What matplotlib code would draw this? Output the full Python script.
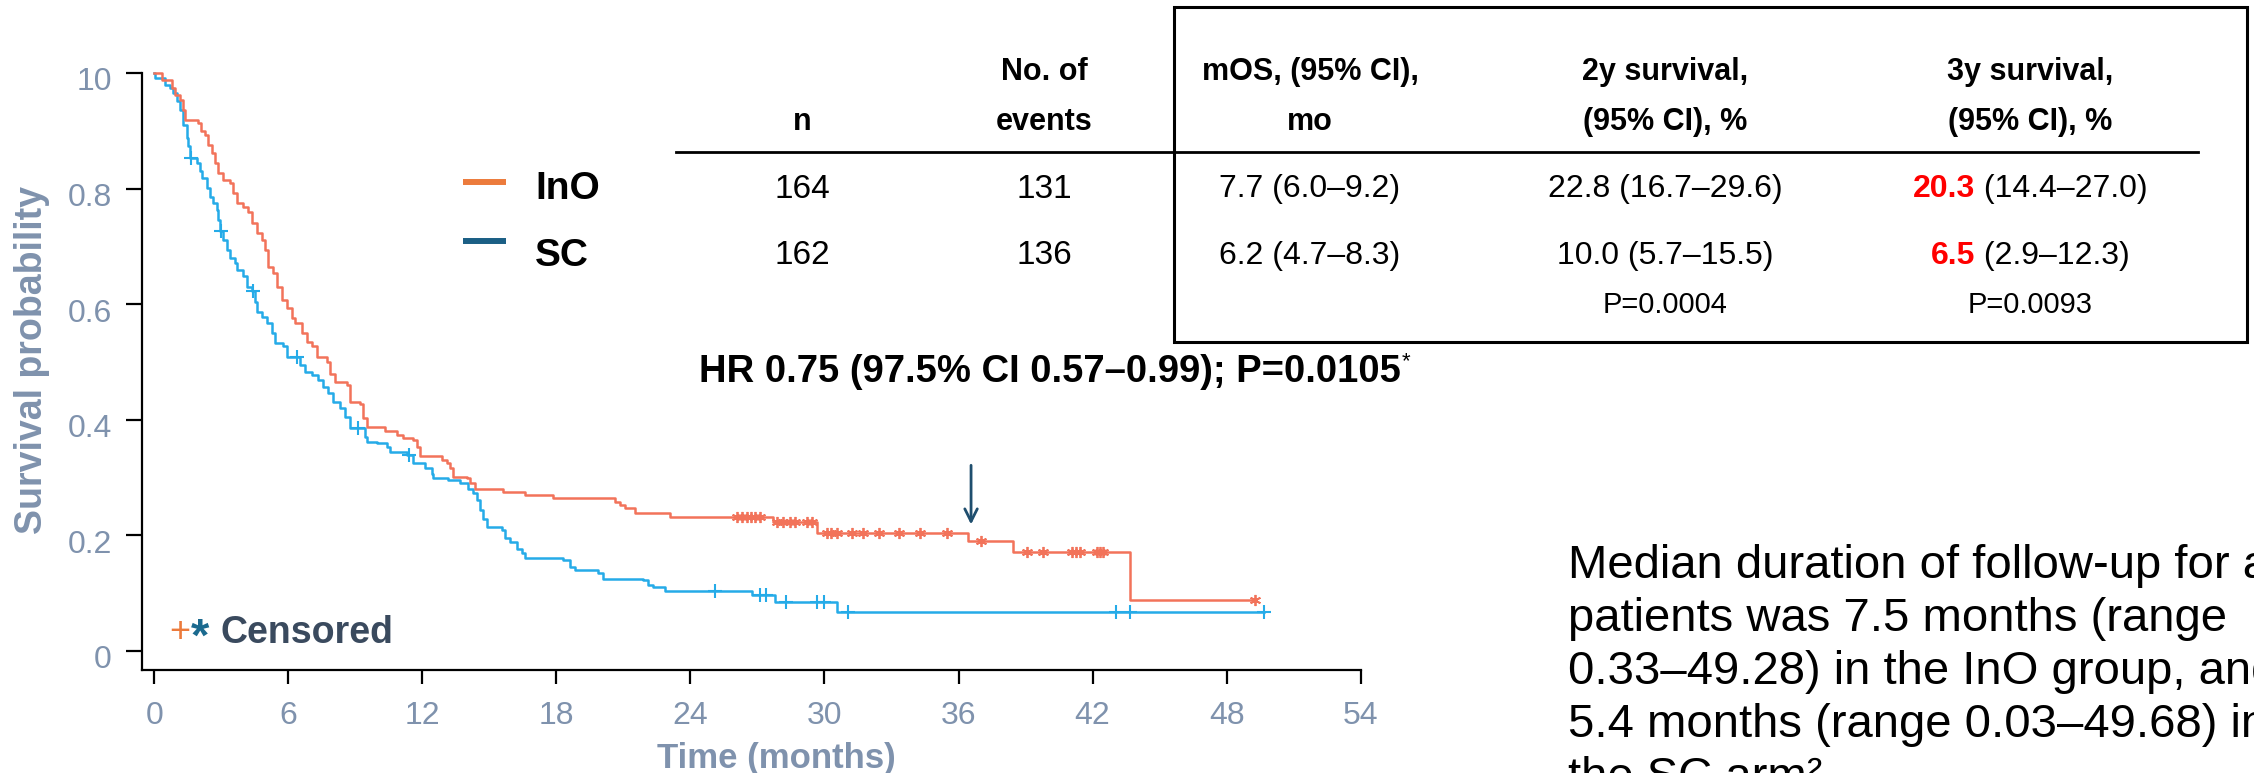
import matplotlib
matplotlib.use('Agg')
import matplotlib.pyplot as plt
import numpy as np
from matplotlib.patches import Rectangle
from matplotlib.lines import Line2D
import matplotlib.transforms as mtransforms

plt.rcParams['font.family'] = ['Liberation Sans', 'DejaVu Sans']

# Kaplan-Meier steps (time in months, survival after the drop)
ino_t = [0, 0.33, 0.78, 0.93, 1.15, 1.27, 1.37, 1.97, 2.08, 2.27,
         2.42, 2.57, 2.72, 2.86, 3.09, 3.39, 3.54, 3.69, 3.98, 4.21,
         4.36, 4.58, 4.81, 4.96, 5.10, 5.33, 5.48, 5.70, 5.93, 6.15,
         6.30, 6.60, 6.82, 7.05, 7.27, 7.72, 7.86, 8.09, 8.61, 8.76,
         9.21, 9.36, 9.51, 10.33, 10.85, 11.15, 11.59, 11.74, 11.89, 12.86,
         13.09, 13.24, 13.39, 13.98, 14.13, 14.36, 15.62, 16.59, 17.86, 20.62,
         20.85, 21.07, 21.52, 23.08, 27.68, 29.68, 36.44, 38.45, 43.67, 49.28]
ino_s = [1.0, 0.988, 0.974, 0.962, 0.954, 0.936, 0.919, 0.913, 0.899, 0.893,
         0.876, 0.861, 0.844, 0.827, 0.815, 0.809, 0.792, 0.775, 0.769, 0.760,
         0.740, 0.723, 0.711, 0.694, 0.665, 0.654, 0.630, 0.607, 0.593, 0.576,
         0.567, 0.550, 0.535, 0.527, 0.509, 0.500, 0.480, 0.466, 0.460, 0.431,
         0.428, 0.403, 0.388, 0.381, 0.374, 0.369, 0.365, 0.353, 0.337, 0.330,
         0.325, 0.316, 0.301, 0.299, 0.290, 0.281, 0.275, 0.270, 0.264, 0.257,
         0.252, 0.247, 0.238, 0.231, 0.223, 0.204, 0.190, 0.172, 0.088, 0.088]
ino_cens = [26.07, 26.30, 26.52, 26.70, 26.89, 27.11, 27.86, 28.16, 28.46, 28.68,
            29.20, 29.43, 30.10, 30.30, 30.55, 31.22, 31.74, 32.44, 33.33, 34.28,
            35.47, 37.0, 39.05, 39.80, 41.07, 41.25, 41.44, 42.18, 42.35, 42.48, 49.28]

sc_t = [0, 0.03, 0.48, 0.70, 0.85, 1.00, 1.15, 1.30, 1.45, 1.52,
        1.58, 1.90, 2.05, 2.12, 2.35, 2.49, 2.64, 2.79, 2.87, 2.94,
        3.09, 3.24, 3.39, 3.61, 3.69, 3.98, 4.14, 4.36, 4.51, 4.58,
        4.81, 5.03, 5.25, 5.40, 5.77, 5.93, 6.52, 6.75, 7.05, 7.34,
        7.56, 7.79, 8.01, 8.31, 8.54, 8.76, 9.43, 9.51, 9.96, 10.40,
        10.55, 11.30, 11.59, 12.12, 12.42, 12.49, 13.16, 13.68, 14.06, 14.28,
        14.43, 14.58, 14.73, 14.88, 15.55, 15.70, 15.92, 16.22, 16.45, 16.59,
        18.31, 18.61, 18.83, 19.87, 20.10, 21.89, 22.11, 22.34, 22.86, 26.74,
        27.78, 30.55, 49.68]
sc_s = [1.0, 0.991, 0.980, 0.974, 0.965, 0.951, 0.936, 0.910, 0.887, 0.873,
        0.853, 0.844, 0.830, 0.818, 0.801, 0.786, 0.775, 0.763, 0.746, 0.726,
        0.711, 0.694, 0.680, 0.671, 0.659, 0.648, 0.630, 0.622, 0.604, 0.587,
        0.578, 0.567, 0.550, 0.532, 0.527, 0.509, 0.495, 0.483, 0.477, 0.469,
        0.457, 0.446, 0.431, 0.420, 0.405, 0.385, 0.371, 0.362, 0.359, 0.353,
        0.345, 0.339, 0.325, 0.316, 0.307, 0.299, 0.296, 0.290, 0.281, 0.273,
        0.261, 0.244, 0.229, 0.215, 0.209, 0.195, 0.189, 0.177, 0.169, 0.160,
        0.157, 0.145, 0.140, 0.134, 0.125, 0.122, 0.114, 0.110, 0.103, 0.097,
        0.084, 0.068, 0.068]
sc_cens = [1.63, 3.01, 4.43, 6.37, 9.13, 11.42, 25.10, 27.11, 27.38, 28.27,
           29.65, 29.98, 31.07, 43.05, 43.67, 49.68]

x_ticks = [0, 6, 12, 18, 24, 30, 36, 42, 48, 54]
y_ticks = [0, 0.2, 0.4, 0.6, 0.8, 1.0]
y_ticklabels = ['0', '0.2', '0.4', '0.6', '0.8', '10']

# summary table
arms = ['InO', 'SC']
n_pts = ['164', '162']
n_events = ['131', '136']
mos = ['7.7 (6.0\u20139.2)', '6.2 (4.7\u20138.3)']
surv2y = ['22.8 (16.7\u201329.6)', '10.0 (5.7\u201315.5)']
surv3y_val = ['20.3', '6.5']
surv3y_ci = [' (14.4\u201327.0)', ' (2.9\u201312.3)']
p_values = ['P=0.0004', 'P=0.0093']
headers = [('', 'n'), ('No. of', 'events'), ('mOS, (95% CI),', 'mo'),
           ('2y survival,', '(95% CI), %'), ('3y survival,', '(95% CI), %')]
hr_text = 'HR 0.75 (97.5% CI 0.57\u20130.99); P=0.0105'
note_lines = ['Median duration of follow-up for all',
              'patients was 7.5 months (range',
              '0.33\u201349.28) in the InO group, and',
              '5.4 months (range 0.03\u201349.68) in',
              'the SC arm\u00b2']
arrow_t, arrow_top, arrow_tip = 36.56, 0.326, 0.214

RED = '#F2735A'
BLUE = '#25ABE8'
ORANGE = '#EC7B3C'
NAVY = '#1B5F85'
GREY = '#7F92AD'

W, H = 2254, 773
fig = plt.figure(figsize=(W / 100, H / 100), dpi=100)


def fx(px):
    return px / W


def fy(py):
    return 1 - py / H


ax = fig.add_axes([fx(141.7), fy(670), fx(1360.7) - fx(141.7), fy(73) - fy(670)])

ax.step(sc_t, sc_s, where='post', color=BLUE, lw=1.8, clip_on=False)
ax.step(ino_t, ino_s, where='post', color=RED, lw=1.8, clip_on=False)


def surv_at(times, surv, tc):
    idx = np.searchsorted(times, tc, side='right') - 1
    return np.asarray(surv)[idx]


ax.plot(sc_cens, surv_at(sc_t, sc_s, sc_cens), ls='none', marker='+',
        ms=10, mew=1.5, color=BLUE, clip_on=False)
ax.plot(ino_cens, surv_at(ino_t, ino_s, ino_cens), ls='none', marker=(6, 2, 0),
        ms=8, mew=1.3, color=RED, clip_on=False)

ax.annotate('', xy=(arrow_t, arrow_tip), xytext=(arrow_t, arrow_top),
            arrowprops=dict(arrowstyle='->,head_length=0.9,head_width=0.45',
                            color='#1F4E6E', lw=2))

ax.set_xlim(-0.56, 54)
ax.set_ylim(-0.033, 1.0)
ax.set_xticks(x_ticks)
ax.set_yticks(y_ticks)
ax.set_yticklabels(y_ticklabels)
for s in ['top', 'right']:
    ax.spines[s].set_visible(False)
for s in ['left', 'bottom']:
    ax.spines[s].set_linewidth(1.6)
ax.tick_params(axis='y', length=11.5, width=1.6, pad=10, labelsize=23, labelcolor=GREY)
ax.tick_params(axis='x', length=10, width=1.6, pad=12, labelsize=23, labelcolor=GREY)
off = mtransforms.ScaledTranslation(0, -6 / 100, fig.dpi_scale_trans)
for lab in ax.get_yticklabels():
    lab.set_transform(lab.get_transform() + off)

ax.set_ylabel('Survival probability', fontsize=27, fontweight='bold', color=GREY)
ax.yaxis.set_label_coords(-0.075, 0.52)
ax.set_xlabel('Time (months)', fontsize=25, fontweight='bold', color=GREY)
ax.xaxis.set_label_coords(0.521, -0.12)

# censored key
fig.text(fx(180), fy(642), '+', fontsize=26, color=ORANGE, ha='center', va='baseline')
fig.text(fx(200), fy(651), '*', fontsize=34, color='#1B6A8F', ha='center', va='baseline',
         fontweight='bold')
fig.text(fx(220), fy(643), 'Censored', fontsize=27, fontweight='bold', color='#3A4A5E',
         ha='left', va='baseline')

renderer = fig.canvas.get_renderer()

# table
col_x = [802, 1044, 1310, 1665, 2030]
head_y = [72, 122]
row_y = [189, 256]
for cx, (h1, h2) in zip(col_x, headers):
    fig.text(fx(cx), fy(head_y[0]), h1, fontsize=22, fontweight='bold', ha='center', va='center')
    fig.text(fx(cx), fy(head_y[1]), h2, fontsize=22, fontweight='bold', ha='center', va='center')

fig.add_artist(Line2D([fx(676), fx(2198)], [fy(152), fy(152)], color='black', lw=2))
fig.add_artist(Rectangle((fx(1174), fy(342)), fx(2247) - fx(1174), fy(7) - fy(342),
                         transform=fig.transFigure, fill=False, ec='black', lw=2.2))

legend_colors = [ORANGE, NAVY]
legend_line_y = [182, 241]
for i in range(2):
    fig.add_artist(Line2D([fx(463), fx(506)], [fy(legend_line_y[i])] * 2,
                          color=legend_colors[i], lw=4.3, solid_capstyle='butt'))
    fig.text(fx(535), fy(row_y[i]), arms[i], fontsize=28, fontweight='bold', ha='left', va='center')
    fig.text(fx(col_x[0]), fy(row_y[i]), n_pts[i], fontsize=24, ha='center', va='center')
    fig.text(fx(col_x[1]), fy(row_y[i]), n_events[i], fontsize=24, ha='center', va='center')
    fig.text(fx(col_x[2]), fy(row_y[i]), mos[i], fontsize=23, ha='center', va='center')
    fig.text(fx(col_x[3]), fy(row_y[i]), surv2y[i], fontsize=23, ha='center', va='center')
    t1 = fig.text(0, 0, surv3y_val[i], fontsize=23, fontweight='bold', color='#FF0000',
                  ha='left', va='center')
    t2 = fig.text(0, 0, surv3y_ci[i], fontsize=23, ha='left', va='center')
    w1 = t1.get_window_extent(renderer).width
    w2 = t2.get_window_extent(renderer).width
    left = col_x[4] - (w1 + w2) / 2
    t1.set_position((fx(left), fy(row_y[i])))
    t2.set_position((fx(left + w1), fy(row_y[i])))

for cx, p in zip(col_x[3:], p_values):
    fig.text(fx(cx), fy(305), p, fontsize=21, ha='center', va='center')

# hazard ratio
th = fig.text(0, 0, hr_text, fontsize=27.5, fontweight='bold', ha='left', va='center')
wh = th.get_window_extent(renderer).width
th.set_position((fx(1050 - wh / 2), fy(372)))
fig.text(fx(1050 + wh / 2 + 1), fy(362), '*', fontsize=16, ha='left', va='center')

# follow-up note
for i, line in enumerate(note_lines):
    fig.text(fx(1568), fy(578 + i * 53), line, fontsize=34, ha='left', va='baseline')

fig.savefig('out.png', dpi=100)
